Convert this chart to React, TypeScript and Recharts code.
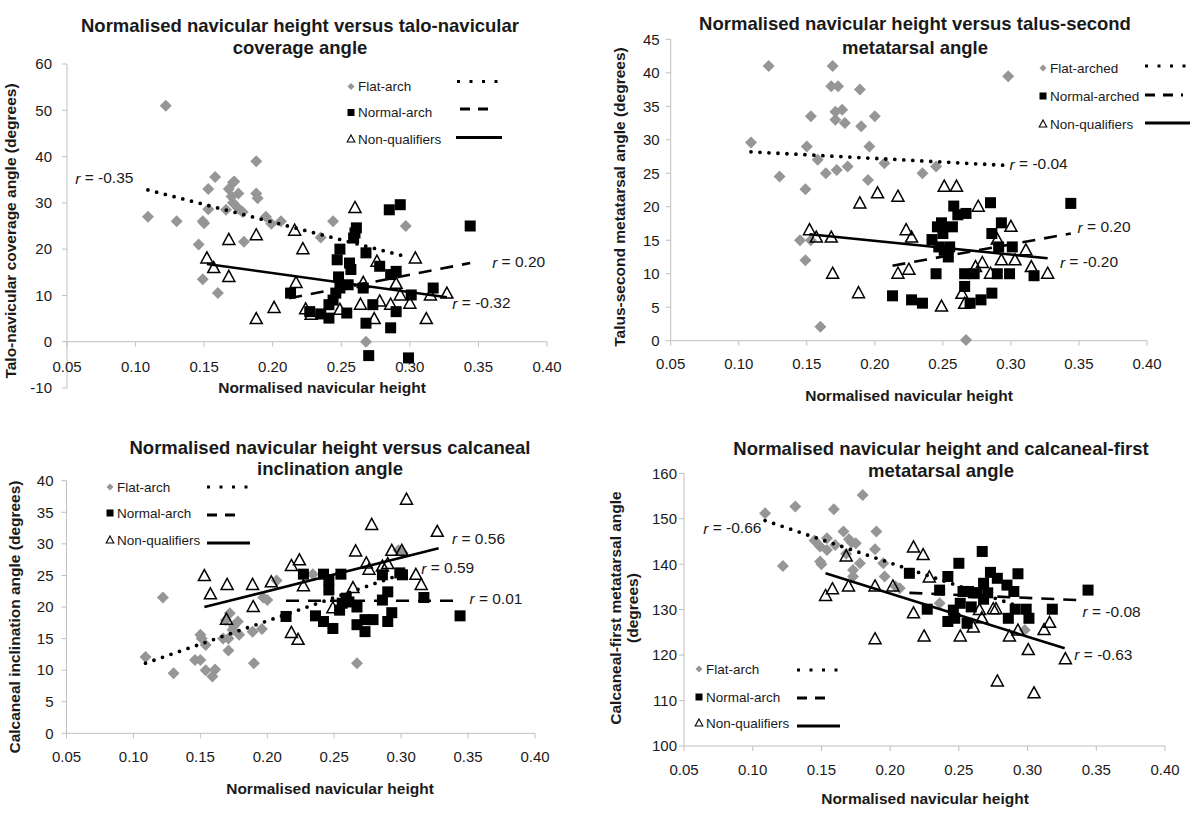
import React from "react";
import { ScatterChart, Scatter, XAxis, YAxis, ReferenceLine, ReferenceDot } from "recharts";

/* 2x2 scatter panels: normalised navicular height vs four foot angles */

const FONT = "'Liberation Sans', Arial, Helvetica, sans-serif";
const AXIS = "#bfbfbf";
const INK = "#1a1a1a";

const xTicks = [0.05, 0.1, 0.15, 0.2, 0.25, 0.3, 0.35, 0.4];

/* ---- talo-navicular coverage angle ---- */
const tnFlat = [
  [0.122, 51], [0.109, 27], [0.13, 26], [0.146, 21], [0.149, 26], [0.15, 25.6], [0.149, 13.5],
  [0.153, 33], [0.158, 35.6], [0.153, 28.6], [0.16, 10.5], [0.168, 33], [0.171, 34.4], [0.172, 34.6],
  [0.17, 31.4], [0.175, 32], [0.171, 30], [0.166, 28.5], [0.175, 28.8], [0.179, 21.6], [0.178, 28],
  [0.188, 32], [0.189, 31], [0.188, 39], [0.195, 27], [0.199, 25.5], [0.206, 26], [0.244, 26],
  [0.235, 22.5], [0.297, 25], [0.268, 0],
];
const tnNormal = [
  [0.213, 10.5], [0.227, 6.5], [0.235, 6], [0.241, 5.1], [0.241, 8], [0.244, 9], [0.246, 10.5],
  [0.248, 14], [0.247, 17.7], [0.249, 20], [0.249, 11.6], [0.254, 6.2], [0.256, 17], [0.257, 15.6],
  [0.255, 12.3], [0.259, 22.4], [0.26, 23.5], [0.261, 24.6], [0.266, 11.6], [0.268, 19.2], [0.268, 4],
  [0.27, -3], [0.273, 8], [0.278, 16.3], [0.286, 3], [0.286, 14.5], [0.285, 28.5], [0.293, 29.6],
  [0.29, 15.2], [0.29, 6.5], [0.301, 10.1], [0.299, -3.5], [0.317, 11.6], [0.344, 25],
];
const tnNon = [
  [0.152, 18], [0.157, 15.9], [0.168, 22], [0.168, 14], [0.188, 23], [0.188, 4.9], [0.201, 7.3],
  [0.216, 24], [0.217, 12.7], [0.222, 20], [0.224, 7], [0.228, 5.8], [0.249, 6.9], [0.26, 28.9],
  [0.264, 8], [0.266, 12.7], [0.274, 4.9], [0.276, 17.3], [0.278, 8.7], [0.286, 8], [0.29, 12.5],
  [0.293, 10], [0.3, 8.2], [0.304, 18], [0.312, 4.9], [0.315, 10], [0.327, 10.4],
];
const tnFitFlat = [[0.109, 32.8], [0.297, 18.4]];
const tnFitNormal = [[0.212, 9.4], [0.344, 17]];
const tnFitNon = [[0.152, 16.8], [0.327, 9.6]];
const tnYTicks = [-10, 0, 10, 20, 30, 40, 50, 60];

/* ---- talus-second metatarsal angle ---- */
const tsFlat = [
  [0.109, 29.6], [0.122, 41], [0.13, 24.5], [0.145, 15], [0.149, 22.6], [0.149, 12], [0.15, 29],
  [0.153, 33.5], [0.153, 15], [0.158, 27], [0.16, 2.1], [0.164, 25], [0.169, 41], [0.168, 38],
  [0.173, 38], [0.171, 34.2], [0.171, 33], [0.176, 34.5], [0.178, 32.5], [0.172, 25.5], [0.18, 26],
  [0.189, 37.5], [0.19, 32], [0.196, 29], [0.195, 24], [0.2, 33.5], [0.207, 26.5], [0.235, 25],
  [0.245, 26], [0.298, 39.5], [0.267, 0.1],
];
const tsNormal = [
  [0.213, 6.7], [0.227, 6.1], [0.235, 5.6], [0.242, 15.1], [0.245, 10], [0.246, 17], [0.247, 14],
  [0.249, 17.6], [0.25, 16], [0.251, 13.5], [0.254, 12.5], [0.255, 14], [0.257, 17], [0.258, 20.1],
  [0.261, 18.8], [0.267, 19], [0.266, 10], [0.266, 8.1], [0.27, 5.6], [0.273, 10], [0.278, 6.1],
  [0.285, 20.6], [0.286, 16], [0.286, 7.1], [0.291, 14], [0.29, 10], [0.293, 17.6], [0.299, 10],
  [0.301, 14], [0.317, 9.7], [0.344, 20.5],
];
const tsNon = [
  [0.152, 16.5], [0.157, 15.4], [0.168, 15.4], [0.169, 10], [0.189, 20.5], [0.188, 7.1], [0.202, 22],
  [0.217, 21.5], [0.217, 10], [0.223, 16.5], [0.227, 15.4], [0.225, 10.6], [0.249, 5.1], [0.251, 23],
  [0.26, 23], [0.264, 7], [0.266, 5.5], [0.274, 11], [0.279, 11.6], [0.276, 20], [0.285, 10],
  [0.29, 15.1], [0.293, 12], [0.3, 17], [0.303, 12], [0.311, 13.5], [0.315, 11], [0.327, 10],
];
const tsFitFlat = [[0.109, 28.2], [0.294, 26.2]];
const tsFitNormal = [[0.213, 11.2], [0.344, 16]];
const tsFitNon = [[0.152, 15.9], [0.327, 12.3]];
const tsYTicks = [0, 5, 10, 15, 20, 25, 30, 35, 40, 45];

/* ---- calcaneal inclination angle ---- */
const ciFlat = [
  [0.109, 12.1], [0.122, 21.5], [0.13, 9.5], [0.146, 11.6], [0.15, 11.6], [0.15, 15.6], [0.151, 15],
  [0.154, 14], [0.154, 10], [0.161, 10.1], [0.159, 9], [0.169, 17.9], [0.167, 15], [0.172, 19],
  [0.171, 13.1], [0.171, 15], [0.175, 17], [0.178, 17.7], [0.179, 15.6], [0.174, 16.4], [0.189, 16.1],
  [0.196, 16.5], [0.19, 11.1], [0.197, 21.5], [0.2, 21.1], [0.207, 24.2], [0.234, 25.2], [0.267, 11.1],
  [0.298, 29], [0.301, 28.6],
];
const ciNormal = [
  [0.214, 18.5], [0.227, 25.2], [0.236, 18.6], [0.242, 17.7], [0.242, 25.2], [0.246, 24.3],
  [0.246, 22.7], [0.249, 16.6], [0.255, 25.2], [0.254, 19.5], [0.256, 20.6], [0.259, 21.4],
  [0.261, 20.8], [0.267, 20], [0.267, 17.2], [0.273, 16.1], [0.273, 18], [0.279, 18], [0.286, 25.1],
  [0.286, 21.1], [0.29, 22.4], [0.29, 17.7], [0.293, 19.1], [0.299, 25.4], [0.301, 25.1],
  [0.317, 21.5], [0.344, 18.6],
];
const ciNon = [
  [0.153, 24.9], [0.1575, 22], [0.17, 23.5], [0.1695, 18], [0.189, 23.5], [0.1895, 20], [0.203, 23.9],
  [0.218, 26.5], [0.218, 15.9], [0.223, 14.8], [0.224, 27.4], [0.227, 23.3], [0.249, 19.8], [0.264, 23],
  [0.266, 28.8], [0.274, 26.9], [0.276, 25.9], [0.278, 33], [0.286, 26.4], [0.29, 26.8], [0.293, 28.9],
  [0.3005, 28.9], [0.304, 37], [0.311, 25.1], [0.315, 23.5], [0.327, 31.9],
];
const ciFitFlat = [[0.109, 11.1], [0.295, 24.8]];
const ciFitNormal = [[0.214, 21], [0.339, 21]];
const ciFitNon = [[0.153, 20], [0.328, 29.3]];
const ciYTicks = [0, 5, 10, 15, 20, 25, 30, 35, 40];

/* ---- calcaneal-first metatarsal angle ---- */
const cfFlat = [
  [0.109, 151.2], [0.122, 139.6], [0.131, 152.7], [0.145, 145.2], [0.149, 143.9], [0.149, 140.6],
  [0.15, 140], [0.154, 145.7], [0.154, 143.1], [0.159, 152.1], [0.16, 144.2], [0.166, 147.2],
  [0.17, 145.5], [0.172, 144.8], [0.175, 144.6], [0.168, 142.3], [0.173, 138.7], [0.173, 137.3],
  [0.178, 140.2], [0.18, 155.2], [0.19, 147.2], [0.189, 143.3], [0.195, 140.2], [0.196, 137.3],
  [0.204, 135.1], [0.207, 134.7], [0.236, 131.4], [0.298, 125.5],
];
const cfNormal = [
  [0.214, 138], [0.227, 130.1], [0.236, 134.3], [0.242, 137.3], [0.242, 127.4], [0.246, 129.9],
  [0.247, 128.1], [0.25, 140.2], [0.251, 131.4], [0.253, 134], [0.256, 127], [0.257, 134],
  [0.259, 130.6], [0.2605, 133.7], [0.263, 133.7], [0.267, 142.8], [0.268, 135.8], [0.268, 132.3],
  [0.271, 133.7], [0.273, 138.2], [0.278, 136.9], [0.285, 135.4], [0.286, 128.1], [0.29, 134],
  [0.291, 130.1], [0.293, 137.9], [0.299, 130.1], [0.301, 128.1], [0.318, 130.1], [0.344, 134.3],
];
const cfNon = [
  [0.153, 133], [0.158, 134.5], [0.1697, 135.1], [0.168, 141.7], [0.189, 135.1], [0.189, 123.5],
  [0.202, 135.1], [0.217, 143.7], [0.224, 142], [0.2285, 137.1], [0.217, 129.2], [0.2247, 124.1],
  [0.251, 124.1], [0.265, 129.9], [0.2605, 126.1], [0.2667, 128.1], [0.275, 130.1], [0.277, 130.1],
  [0.278, 114.2], [0.2868, 124.1], [0.293, 125.4], [0.3005, 121.1], [0.3047, 111.6], [0.312, 125.5],
  [0.316, 127.1], [0.3275, 119.1],
];
const cfFitFlat = [[0.109, 149.6], [0.291, 131]];
const cfFitNormal = [[0.214, 133.7], [0.337, 132.1]];
const cfFitNon = [[0.153, 138], [0.327, 121.5]];
const cfYTicks = [100, 110, 120, 130, 140, 150, 160];

const pts = (a: number[][]) => a.map(([x, y]) => ({ x, y }));

/* markers */
const Diamond = (p: any) => (
  <polygon
    points={`${p.cx},${p.cy - 6} ${p.cx + 6},${p.cy} ${p.cx},${p.cy + 6} ${p.cx - 6},${p.cy}`}
    fill="#969696"
  />
);
const Square = (p: any) => <rect x={p.cx - 5.5} y={p.cy - 5.5} width={11} height={11} fill="#000" />;
const Triangle = (p: any) => (
  <polygon
    points={`${p.cx},${p.cy - 6.5} ${p.cx + 6},${p.cy + 4.5} ${p.cx - 6},${p.cy + 4.5}`}
    fill="none"
    stroke="#000"
    strokeWidth={1.5}
    strokeLinejoin="miter"
  />
);
const NoMark = () => <g />;

const fitDot = { stroke: "#000", strokeWidth: 3.8, strokeDasharray: "0 9", strokeLinecap: "round" as const };
const fitDash = { stroke: "#000", strokeWidth: 2.6, strokeDasharray: "13 9" };
const fitSolid = { stroke: "#000", strokeWidth: 2.6 };

type RLabel = { x: number; y: number; v: string };

interface PanelProps {
  left: number;
  top: number;
  height: number;
  margin: { top: number; right: number; bottom: number; left: number };
  yDomain: [number, number];
  yTicks: number[];
  yTickGap: number;
  flat: number[][];
  normal: number[][];
  non: number[][];
  fits: number[][][];
  rLabels: RLabel[];
  axisAtZero?: boolean;
}

function Panel(p: PanelProps) {
  return (
    <div style={{ position: "absolute", left: p.left, top: p.top }}>
      <ScatterChart width={600} height={p.height} margin={p.margin}>
        <XAxis
          type="number"
          dataKey="x"
          domain={[0.05, 0.4]}
          ticks={xTicks}
          hide={p.axisAtZero}
          height={40}
          tickFormatter={(v: number) => v.toFixed(2)}
          axisLine={{ stroke: AXIS }}
          tickLine={{ stroke: AXIS }}
          tickSize={5}
          tickMargin={13}
          tick={{ fill: INK, fontSize: 15, fontFamily: FONT }}
        />
        <YAxis
          type="number"
          dataKey="y"
          domain={p.yDomain}
          ticks={p.yTicks}
          width={50}
          interval={0}
          axisLine={{ stroke: AXIS }}
          tickLine={{ stroke: AXIS }}
          tickSize={5}
          tickMargin={p.yTickGap}
          tick={{ fill: INK, fontSize: 15, fontFamily: FONT }}
        />
        {p.axisAtZero && <ReferenceLine y={0} stroke={AXIS} strokeWidth={1} />}
        {p.axisAtZero &&
          xTicks.map((t) => (
            <ReferenceDot
              key={t}
              x={t}
              y={0}
              r={0}
              ifOverflow="visible"
              shape={(d: any) => (
                <g>
                  <line x1={d.cx} y1={d.cy} x2={d.cx} y2={d.cy + 5} stroke={AXIS} />
                  <text
                    x={d.cx}
                    y={d.cy + 25}
                    textAnchor="middle"
                    dominantBaseline="central"
                    fill={INK}
                    fontSize={15}
                    fontFamily={FONT}
                  >
                    {t.toFixed(2)}
                  </text>
                </g>
              )}
            />
          ))}
        <Scatter data={pts(p.flat)} shape={Diamond} isAnimationActive={false} />
        <Scatter data={pts(p.normal)} shape={Square} isAnimationActive={false} />
        <Scatter data={pts(p.non)} shape={Triangle} isAnimationActive={false} />
        <Scatter data={pts(p.fits[0])} line={fitDot} shape={NoMark} isAnimationActive={false} />
        <Scatter data={pts(p.fits[1])} line={fitDash} shape={NoMark} isAnimationActive={false} />
        <Scatter data={pts(p.fits[2])} line={fitSolid} shape={NoMark} isAnimationActive={false} />
        {p.rLabels.map((l) => (
          <ReferenceDot
            key={l.v}
            x={l.x}
            y={l.y}
            r={0}
            ifOverflow="visible"
            shape={(d: any) => (
              <text x={d.cx} y={d.cy} dominantBaseline="central" fill={INK} fontSize={15.5} fontFamily={FONT}>
                <tspan fontStyle="italic">r</tspan>
                {` = ${l.v}`}
              </text>
            )}
          />
        ))}
      </ScatterChart>
    </div>
  );
}

/* legend box drawn in the overlay */
function LegendBlock(props: { mx: number; rows: number[]; names: string[]; lines: number[][] }) {
  const { mx, rows, names, lines } = props;
  const styles = [
    { strokeWidth: 3, strokeDasharray: "3 9.5" },
    { strokeWidth: 3, strokeDasharray: "10 8" },
    { strokeWidth: 3 },
  ];
  return (
    <g>
      <polygon points={`${mx},${rows[0] - 3.5} ${mx + 3.5},${rows[0]} ${mx},${rows[0] + 3.5} ${mx - 3.5},${rows[0]}`} fill="#969696" />
      <rect x={mx - 3.5} y={rows[1] - 3.5} width={7} height={7} fill="#000" />
      <polygon points={`${mx},${rows[2] - 4} ${mx + 3.8},${rows[2] + 3} ${mx - 3.8},${rows[2] + 3}`} fill="none" stroke="#000" strokeWidth={1.1} />
      {names.map((n, i) => (
        <text key={n} x={mx + 7} y={rows[i]} dominantBaseline="central" fontSize={13.5} fontFamily={FONT} fill={INK}>
          {n}
        </text>
      ))}
      {lines.map((l, i) => (
        <line key={i} x1={l[0]} x2={l[1]} y1={l[2]} y2={l[2]} stroke="#000" {...styles[i]} />
      ))}
    </g>
  );
}

const T = (x: number, y: number, s: string, size = 18.5, rot = false) => (
  <text
    key={s + x + y}
    x={x}
    y={y}
    textAnchor="middle"
    dominantBaseline="central"
    fontWeight="bold"
    fontSize={size}
    fontFamily={FONT}
    fill={INK}
    transform={rot ? `rotate(-90 ${x} ${y})` : undefined}
  >
    {s}
  </text>
);

export default function App() {
  return (
    <div style={{ position: "absolute", left: 0, top: 0, width: 1200, height: 818, background: "#fff", fontFamily: FONT }}>
      <Panel
        left={0}
        top={0}
        height={410}
        margin={{ top: 64, right: 53, bottom: 22, left: 17 }}
        yDomain={[-10, 60]}
        yTicks={tnYTicks}
        yTickGap={10}
        flat={tnFlat}
        normal={tnNormal}
        non={tnNon}
        fits={[tnFitFlat, tnFitNormal, tnFitNon]}
        rLabels={[
          { x: 0.056, y: 35.4, v: "-0.35" },
          { x: 0.36, y: 17.3, v: "0.20" },
          { x: 0.331, y: 8.4, v: "-0.32" },
        ]}
        axisAtZero
      />
      <Panel
        left={600}
        top={0}
        height={410}
        margin={{ top: 39.3, right: 53, bottom: 29.3, left: 20.7 }}
        yDomain={[0, 45]}
        yTicks={tsYTicks}
        yTickGap={6}
        flat={tsFlat}
        normal={tsNormal}
        non={tsNon}
        fits={[tsFitFlat, tsFitNormal, tsFitNon]}
        rLabels={[
          { x: 0.299, y: 26.4, v: "-0.04" },
          { x: 0.349, y: 17, v: "0.20" },
          { x: 0.336, y: 11.8, v: "-0.20" },
        ]}
      />
      <Panel
        left={0}
        top={410}
        height={408}
        margin={{ top: 70.7, right: 65, bottom: 44.7, left: 16.5 }}
        yDomain={[0, 40]}
        yTicks={ciYTicks}
        yTickGap={8}
        flat={ciFlat}
        normal={ciNormal}
        non={ciNon}
        fits={[ciFitFlat, ciFitNormal, ciFitNon]}
        rLabels={[
          { x: 0.338, y: 30.9, v: "0.56" },
          { x: 0.315, y: 26.2, v: "0.59" },
          { x: 0.351, y: 21.4, v: "0.01" },
        ]}
      />
      <Panel
        left={600}
        top={410}
        height={408}
        margin={{ top: 63.3, right: 35, bottom: 32, left: 34 }}
        yDomain={[100, 160]}
        yTicks={cfYTicks}
        yTickGap={2}
        flat={cfFlat}
        normal={cfNormal}
        non={cfNon}
        fits={[cfFitFlat, cfFitNormal, cfFitNon]}
        rLabels={[
          { x: 0.064, y: 148, v: "-0.66" },
          { x: 0.34, y: 129.7, v: "-0.08" },
          { x: 0.334, y: 120.2, v: "-0.63" },
        ]}
      />
      <svg width={1200} height={818} style={{ position: "absolute", left: 0, top: 0, pointerEvents: "none" }}>
        {T(300, 25, "Normalised navicular height versus talo-navicular")}
        {T(300, 47, "coverage angle")}
        {T(915, 23, "Normalised navicular height versus talus-second")}
        {T(915, 47, "metatarsal angle")}
        {T(330, 447, "Normalised navicular height versus calcaneal")}
        {T(330, 468, "inclination angle")}
        {T(941, 448, "Normalised navicular height and calcaneal-first")}
        {T(941, 470, "metatarsal angle")}

        {T(322, 387, "Normalised navicular height", 15.5)}
        {T(909, 395, "Normalised navicular height", 15.5)}
        {T(330, 788, "Normalised navicular height", 15.5)}
        {T(925, 798, "Normalised navicular height", 15.5)}

        {T(10, 231, "Talo-navicular coverage angle (degrees)", 15.5, true)}
        {T(619, 197, "Talus-second metatarsal angle (degrees)", 15.5, true)}
        {T(14, 617, "Calcaneal inclination angle (degrees)", 15.5, true)}
        {T(615, 608, "Calcaneal-first metatarsal angle", 15.5, true)}
        {T(632, 608, "(degrees)", 15.5, true)}

        <LegendBlock
          mx={351}
          rows={[86.5, 112.5, 139]}
          names={["Flat-arch", "Normal-arch", "Non-qualifiers"]}
          lines={[[457, 498, 81.5], [460, 494, 109], [456, 502, 137.5]]}
        />
        <LegendBlock
          mx={1043}
          rows={[68, 96, 124]}
          names={["Flat-arched", "Normal-arched", "Non-qualifiers"]}
          lines={[[1145, 1186, 66], [1145, 1183, 95], [1145, 1190, 123]]}
        />
        <LegendBlock
          mx={110}
          rows={[487, 513, 540]}
          names={["Flat-arch", "Normal-arch", "Non-qualifiers"]}
          lines={[[207, 249, 487], [207, 241, 515], [207, 250, 543]]}
        />
        <LegendBlock
          mx={699}
          rows={[669, 697, 723]}
          names={["Flat-arch", "Normal-arch", "Non-qualifiers"]}
          lines={[[797, 838, 670], [797, 832, 698], [797, 840, 726]]}
        />
      </svg>
    </div>
  );
}
